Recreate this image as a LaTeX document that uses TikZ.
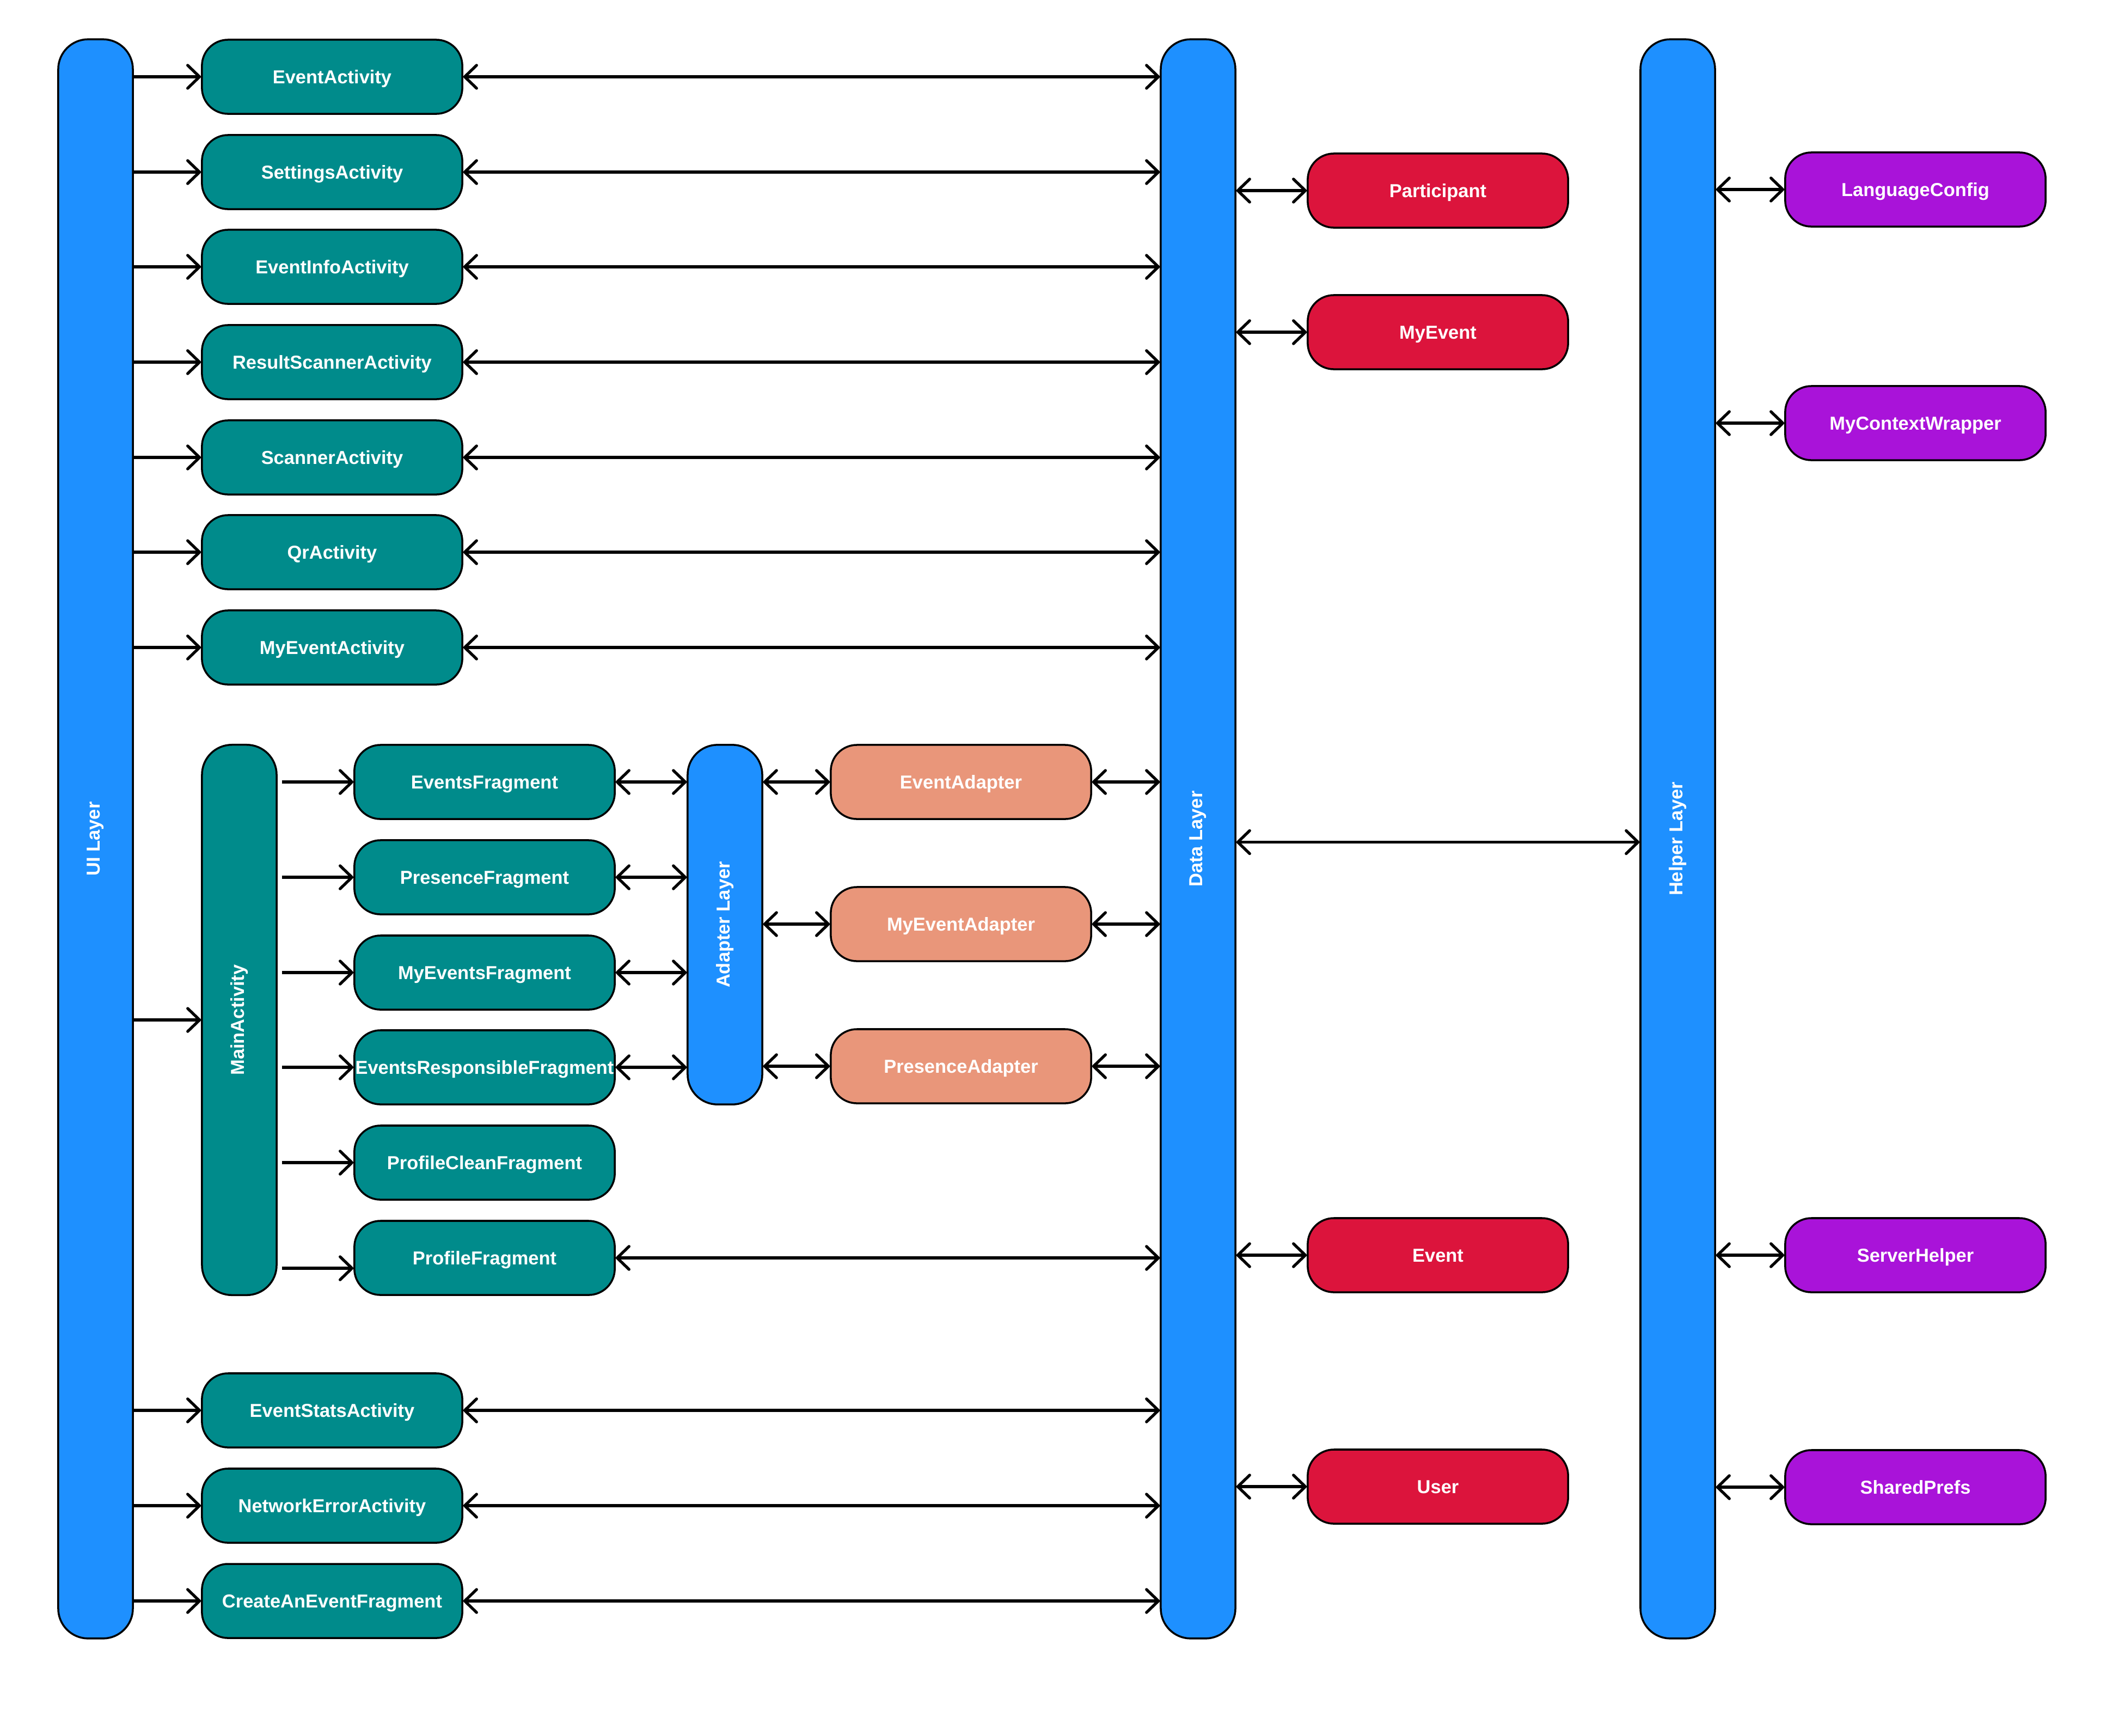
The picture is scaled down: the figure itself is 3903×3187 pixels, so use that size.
\documentclass[tikz,border=0pt]{standalone}
\usepackage{fontspec}
\setmainfont{Liberation Sans}
\usetikzlibrary{arrows.meta,calc}

\definecolor{layerblue}{HTML}{1E90FF}
\definecolor{uiteal}{HTML}{008B8B}
\definecolor{modelred}{HTML}{DC143C}
\definecolor{adaptsalmon}{HTML}{E9967A}
\definecolor{helperpurple}{HTML}{A913D9}

\tikzset{
  labelfont/.style={font=\fontsize{9.8pt}{12pt}\selectfont\bfseries},
  box/.style={draw=black, line width=1pt, rounded corners=0.48cm,
    minimum width=4.78cm, minimum height=1.36cm, inner sep=0pt,
    text=white, labelfont, text height=7pt, text depth=0pt},
  uibox/.style={box, fill=uiteal},
  modelbox/.style={box, fill=modelred},
  adapterbox/.style={box, fill=adaptsalmon},
  helperbox/.style={box, fill=helperpurple},
  layerbar/.style={draw=black, line width=1pt, rounded corners=0.55cm,
    minimum width=1.37cm, inner sep=0pt, text=white, labelfont},
  tip/.tip={Straight Barb[length=6.2pt,width=12pt,round]},
  conn/.style={line width=1.5pt, -tip},
  biconn/.style={line width=1.5pt, tip-tip},
}

\begin{document}
\begin{tikzpicture}[x=0.01cm, y=-0.01cm]
\useasboundingbox (0,0) rectangle (3903,3187);

% layer bars
\node[layerbar, fill=layerblue, minimum height=29.35cm] (ui) at (175.5,1540.5) {\rotatebox{90}{UI Layer}};
\node[layerbar, fill=layerblue, minimum height=29.35cm] (data) at (2200.5,1540.5) {\rotatebox{90}{Data Layer}};
\node[layerbar, fill=layerblue, minimum height=29.35cm] (helper) at (3081.5,1540.5) {\rotatebox{90}{Helper Layer}};
\node[layerbar, fill=uiteal, minimum height=10.10cm] (main) at (439.5,1873) {\rotatebox{90}{MainActivity}};
\node[layerbar, fill=layerblue, minimum height=6.60cm] (adl) at (1331.5,1698) {\rotatebox{90}{Adapter Layer}};

% activities
\node[uibox] (a1) at (610,141) {EventActivity};
\node[uibox] (a2) at (610,316) {SettingsActivity};
\node[uibox] (a3) at (610,490) {EventInfoActivity};
\node[uibox] (a4) at (610,665) {ResultScannerActivity};
\node[uibox] (a5) at (610,840) {ScannerActivity};
\node[uibox] (a6) at (610,1014) {QrActivity};
\node[uibox] (a7) at (610,1189) {MyEventActivity};
\node[uibox] (a8) at (610,2590) {EventStatsActivity};
\node[uibox] (a9) at (610,2765) {NetworkErrorActivity};
\node[uibox] (a10) at (610,2940) {CreateAnEventFragment};

% fragments
\node[uibox] (f1) at (890,1436) {EventsFragment};
\node[uibox] (f2) at (890,1611) {PresenceFragment};
\node[uibox] (f3) at (890,1786) {MyEventsFragment};
\node[uibox] (f4) at (890,1960) {EventsResponsibleFragment};
\node[uibox] (f5) at (890,2135) {ProfileCleanFragment};
\node[uibox] (f6) at (890,2310) {ProfileFragment};

% adapters
\node[adapterbox] (ad1) at (1765,1436) {EventAdapter};
\node[adapterbox] (ad2) at (1765,1697) {MyEventAdapter};
\node[adapterbox] (ad3) at (1765,1958) {PresenceAdapter};

% models
\node[modelbox] (m1) at (2641,350) {Participant};
\node[modelbox] (m2) at (2641,610) {MyEvent};
\node[modelbox] (m3) at (2641,2305) {Event};
\node[modelbox] (m4) at (2641,2730) {User};

% helpers
\node[helperbox] (h1) at (3518,348) {LanguageConfig};
\node[helperbox] (h2) at (3518,777) {MyContextWrapper};
\node[helperbox] (h3) at (3518,2305) {ServerHelper};
\node[helperbox] (h4) at (3518,2731) {SharedPrefs};

% UI layer to activities
\foreach \n in {a1,a2,a3,a4,a5,a6,a7,main,a8,a9,a10}
  \draw[conn] (ui.east |- \n.west) -- (\n.west);

% activities to data layer
\foreach \n in {a1,a2,a3,a4,a5,a6,a7,a8,a9,a10}
  \draw[biconn] (\n.east) -- (\n.east -| data.west);

% MainActivity to fragments
\foreach \n in {f1,f2,f3,f4,f5}
  \draw[conn] ($(main.east |- \n.west)+(8,0)$) -- (\n.west);
\draw[conn] ($(main.east |- f6.west)+(8,19)$) -- ($(f6.west)+(0,19)$);

% fragments to adapter layer
\foreach \n in {f1,f2,f3,f4}
  \draw[biconn] (\n.east) -- (\n.east -| adl.west);

% adapter layer to adapters, adapters to data layer
\foreach \n in {ad1,ad2,ad3}{
  \draw[biconn] (adl.east |- \n.west) -- (\n.west);
  \draw[biconn] (\n.east) -- (\n.east -| data.west);
}

% ProfileFragment to data layer
\draw[biconn] (f6.east) -- (f6.east -| data.west);

% data layer to models
\foreach \n in {m1,m2,m3,m4}
  \draw[biconn] (data.east |- \n.west) -- (\n.west);

% data layer to helper layer
\draw[biconn] ($(data.east)+(0,6)$) -- ($(helper.west)+(0,6)$);

% helper layer to helpers
\foreach \n in {h1,h2,h3,h4}
  \draw[biconn] (helper.east |- \n.west) -- (\n.west);

\end{tikzpicture}
\end{document}
